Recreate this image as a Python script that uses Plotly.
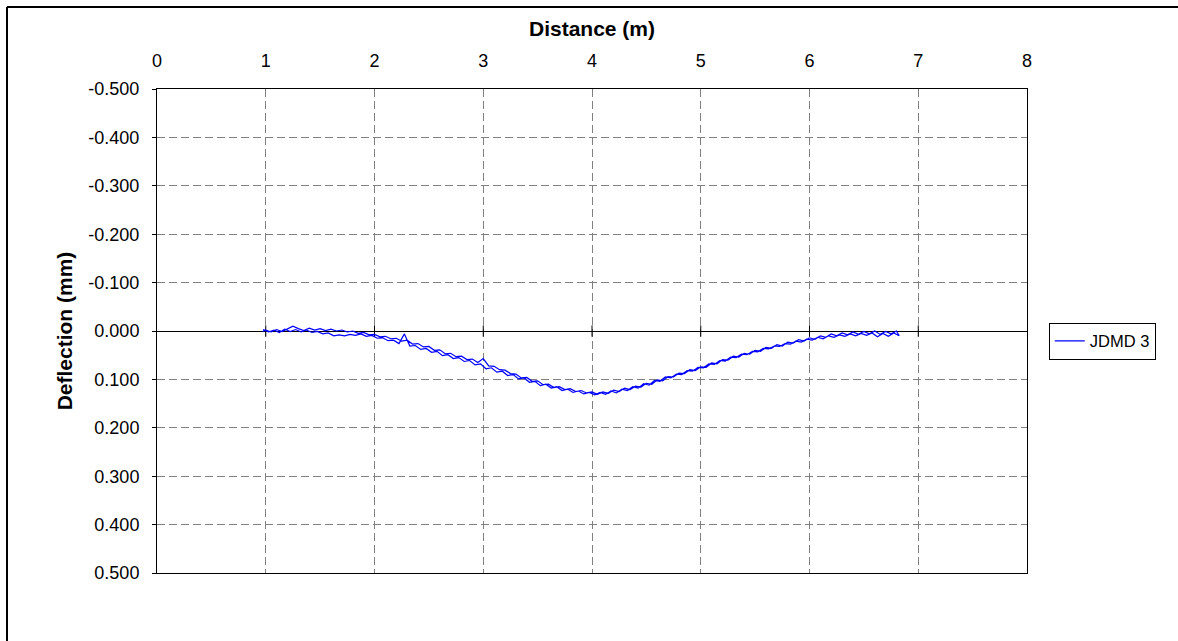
import plotly.graph_objects as go

# Forward pass
x_fwd = [0.97, 1.00, 1.05, 1.10, 1.15, 1.20, 1.25, 1.30, 1.35, 1.40, 1.45, 1.50, 1.55, 1.60, 1.65,
         1.70, 1.75, 1.80, 1.85, 1.90, 1.95, 2.00, 2.05, 2.10, 2.15, 2.20, 2.25, 2.30, 2.35, 2.40,
         2.45, 2.50, 2.55, 2.60, 2.65, 2.70, 2.75, 2.80, 2.85, 2.90, 2.95, 3.00, 3.05, 3.10, 3.15,
         3.20, 3.25, 3.30, 3.35, 3.40, 3.45, 3.50, 3.55, 3.60, 3.65, 3.70, 3.75, 3.80, 3.85, 3.90,
         3.95, 4.00, 4.05, 4.10, 4.15, 4.20, 4.25, 4.30, 4.35, 4.40, 4.45, 4.50, 4.55, 4.60, 4.65,
         4.70, 4.75, 4.80, 4.85, 4.90, 4.95, 5.00, 5.05, 5.10, 5.15, 5.20, 5.25, 5.30, 5.35, 5.40,
         5.45, 5.50, 5.55, 5.60, 5.65, 5.70, 5.75, 5.80, 5.85, 5.90, 5.95, 6.00, 6.05, 6.10, 6.15,
         6.20, 6.25, 6.30, 6.35, 6.40, 6.45, 6.50, 6.55, 6.60, 6.65, 6.70, 6.75, 6.80]
y_fwd = [0.001, -0.002, 0.002, -0.003, 0.001, -0.004, -0.010, -0.005, -0.001, -0.006, -0.002, -0.005, -0.001, -0.004, 0.000,
         -0.002, 0.002, 0.000, 0.005, 0.003, 0.008, 0.007, 0.012, 0.011, 0.016, 0.015, 0.021, 0.019, 0.027, 0.026,
         0.033, 0.032, 0.040, 0.039, 0.047, 0.046, 0.053, 0.052, 0.059, 0.058, 0.065, 0.057, 0.072, 0.073, 0.080,
         0.081, 0.088, 0.089, 0.097, 0.096, 0.104, 0.103, 0.111, 0.110, 0.117, 0.115, 0.121, 0.119, 0.125, 0.123,
         0.128, 0.126, 0.131, 0.126, 0.129, 0.122, 0.125, 0.118, 0.121, 0.114, 0.116, 0.108, 0.110, 0.101, 0.103,
         0.094, 0.095, 0.087, 0.088, 0.080, 0.082, 0.074, 0.075, 0.066, 0.068, 0.059, 0.060, 0.052, 0.054, 0.046,
         0.048, 0.040, 0.042, 0.034, 0.036, 0.028, 0.031, 0.023, 0.025, 0.018, 0.021, 0.014, 0.017, 0.010, 0.013,
         0.006, 0.010, 0.004, 0.008, 0.002, 0.007, 0.001, 0.006, 0.000, 0.007, 0.001, 0.006, 0.000]

# Return pass
x_back = [6.825, 6.775, 6.725, 6.675, 6.625, 6.575, 6.525, 6.475, 6.425, 6.375, 6.325, 6.275, 6.225, 6.175, 6.125,
          6.075, 6.025, 5.975, 5.925, 5.875, 5.825, 5.775, 5.725, 5.675, 5.625, 5.575, 5.525, 5.475, 5.425, 5.375,
          5.325, 5.275, 5.225, 5.175, 5.125, 5.075, 5.025, 4.975, 4.925, 4.875, 4.825, 4.775, 4.725, 4.675, 4.625,
          4.575, 4.525, 4.475, 4.425, 4.375, 4.325, 4.275, 4.225, 4.175, 4.125, 4.075, 4.025, 3.975, 3.925, 3.875,
          3.825, 3.775, 3.725, 3.675, 3.625, 3.575, 3.525, 3.475, 3.425, 3.375, 3.325, 3.275, 3.225, 3.175, 3.125,
          3.075, 3.025, 2.975, 2.925, 2.875, 2.825, 2.775, 2.725, 2.675, 2.625, 2.575, 2.525, 2.475, 2.425, 2.375,
          2.325, 2.275, 2.225, 2.175, 2.125, 2.075, 2.025, 1.975, 1.925, 1.875, 1.825, 1.775, 1.725, 1.675, 1.625,
          1.575, 1.525, 1.475, 1.425, 1.375, 1.325, 1.275, 1.225, 1.175, 1.125, 1.075, 1.025, 0.975]
y_back = [0.010, 0.004, 0.011, 0.005, 0.012, 0.004, 0.009, 0.005, 0.010, 0.006, 0.011, 0.008, 0.013, 0.010, 0.016,
          0.013, 0.019, 0.017, 0.023, 0.021, 0.027, 0.026, 0.032, 0.031, 0.037, 0.036, 0.043, 0.042, 0.049, 0.048,
          0.055, 0.054, 0.062, 0.061, 0.069, 0.068, 0.076, 0.075, 0.083, 0.082, 0.090, 0.089, 0.097, 0.095, 0.104,
          0.102, 0.112, 0.109, 0.118, 0.115, 0.123, 0.120, 0.128, 0.124, 0.131, 0.127, 0.132, 0.127, 0.130, 0.124,
          0.127, 0.120, 0.123, 0.115, 0.118, 0.110, 0.113, 0.104, 0.106, 0.097, 0.099, 0.090, 0.092, 0.083, 0.085,
          0.076, 0.078, 0.068, 0.070, 0.061, 0.063, 0.055, 0.057, 0.049, 0.051, 0.042, 0.044, 0.036, 0.038, 0.030,
          0.031, 0.006, 0.026, 0.019, 0.020, 0.014, 0.015, 0.009, 0.011, 0.006, 0.009, 0.007, 0.010, 0.008, 0.010,
          0.004, 0.006, 0.001, 0.003, -0.002, 0.002, -0.003, 0.001, -0.004, 0.003, -0.002, 0.002, -0.003]

series_name = "JDMD 3"
x_ticks = [0, 1, 2, 3, 4, 5, 6, 7, 8]
y_ticks = [-0.5, -0.4, -0.3, -0.2, -0.1, 0.0, 0.1, 0.2, 0.3, 0.4, 0.5]
y_ticklabels = ["-0.500", "-0.400", "-0.300", "-0.200", "-0.100", "0.000",
                "0.100", "0.200", "0.300", "0.400", "0.500"]
zero_tick_x = [1, 2, 3, 4, 5, 6, 7]
zero_tick_y = [0, 0, 0, 0, 0, 0, 0]

FONT = "Liberation Sans, Arial, sans-serif"

fig = go.Figure()
fig.add_trace(go.Scatter(
    x=zero_tick_x, y=zero_tick_y, mode="markers", showlegend=False, hoverinfo="skip",
    marker=dict(symbol="line-ns", size=8, color="black", line=dict(color="black", width=1)),
))
fig.add_trace(go.Scatter(
    x=x_fwd + x_back, y=y_fwd + y_back, mode="lines", name=series_name,
    line=dict(color="#0000FF", width=1.2),
))

W, H = 1178, 641
L, R, T, B = 157, 151, 89, 68
pw, ph = W - L - R, H - T - B

fig.update_layout(
    width=W, height=H,
    margin=dict(l=L, r=R, t=T, b=B),
    paper_bgcolor="white", plot_bgcolor="white",
    font=dict(family=FONT, size=18, color="black"),
    showlegend=True,
    legend=dict(
        x=1.025, y=0.479, xanchor="left", yanchor="middle",
        bordercolor="black", borderwidth=1, bgcolor="white",
        font=dict(family=FONT, size=16.5, color="black"),
        itemwidth=30,
    ),
    xaxis=dict(
        range=[0, 8], side="top", tickmode="array", tickvals=x_ticks,
        ticks="", ticklabelstandoff=14,
        showgrid=True, gridcolor="#808080", griddash="8px,4px", gridwidth=1,
        showline=True, linecolor="black", linewidth=1, mirror=True,
        zeroline=False,
        title=dict(text="<b>Distance (m)</b>", font=dict(family=FONT, size=21), standoff=8),
        tickfont=dict(family=FONT, size=18),
    ),
    yaxis=dict(
        range=[0.5, -0.5], tickmode="array", tickvals=y_ticks, ticktext=y_ticklabels,
        ticks="outside", ticklen=4, tickcolor="black", ticklabelstandoff=9,
        showgrid=True, gridcolor="#808080", griddash="8px,4px", gridwidth=1,
        showline=True, linecolor="black", linewidth=1, mirror=True,
        zeroline=True, zerolinecolor="black", zerolinewidth=1,
        title=dict(text="<b>Deflection (mm)</b>", font=dict(family=FONT, size=21), standoff=10),
        tickfont=dict(family=FONT, size=18),
    ),
)

# outer chart-area border (top and left edges; right/bottom lie outside the view)
bx0 = (7 - L) / pw
by1 = (H - B - 7) / ph
fig.add_shape(type="line", xref="paper", yref="paper",
              x0=bx0, x1=(W + 50 - L) / pw, y0=by1, y1=by1,
              line=dict(color="black", width=2), layer="below")
fig.add_shape(type="line", xref="paper", yref="paper",
              x0=bx0, x1=bx0, y0=by1, y1=(H - B - (H + 50)) / ph,
              line=dict(color="black", width=2), layer="below")

fig.write_html(
    "out.html", config={"displayModeBar": False},
    post_script=("document.body.style.margin='0';"
                 "document.body.style.overflow='hidden';"
                 "document.documentElement.style.overflow='hidden';"),
)
